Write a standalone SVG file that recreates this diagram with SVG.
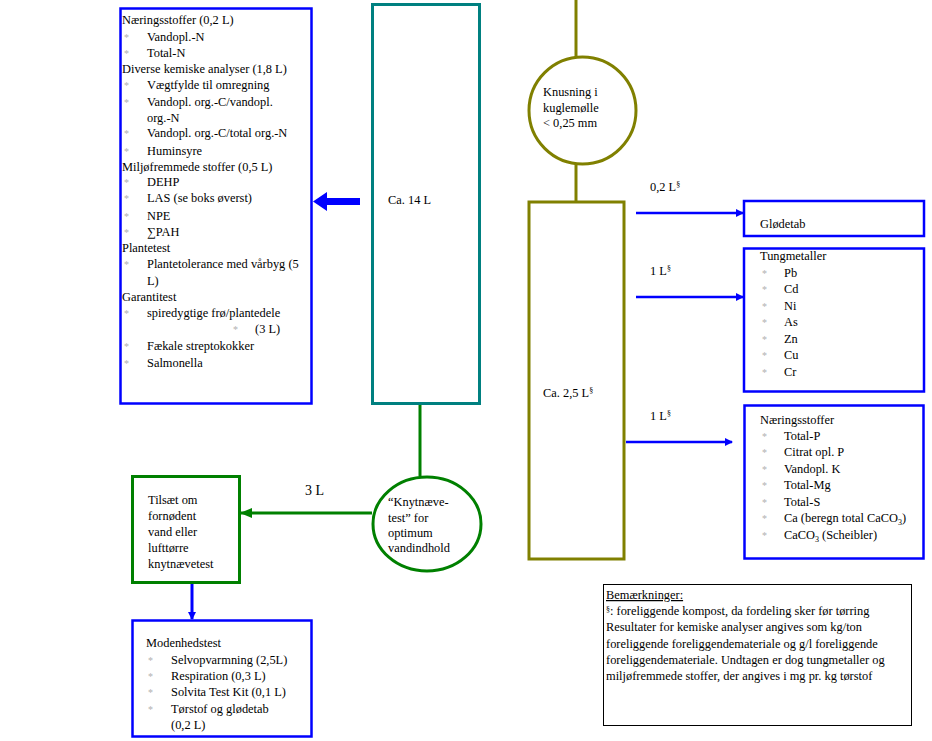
<svg xmlns="http://www.w3.org/2000/svg" width="932" height="741" viewBox="0 0 932 741">
<defs>
<style>
text{font-family:"Liberation Serif","Times New Roman",serif;font-size:12.4px;fill:#000}
.b{fill:#b0b0b0;font-size:10px}
.sup{font-size:8px}
.blue{fill:none;stroke:#0000ff;stroke-width:2.5}
.olive{fill:none;stroke:#808000;stroke-width:3}
.green{fill:none;stroke:#008000;stroke-width:3}
.teal{fill:none;stroke:#008080;stroke-width:3}
</style>
<marker id="ab" markerWidth="8" markerHeight="8" refX="7" refY="4" orient="auto" markerUnits="userSpaceOnUse" viewBox="0 0 8 8"><path d="M0,0 L8,4 L0,8 Z" fill="#0000ff"/></marker>
<marker id="ag" markerWidth="12" markerHeight="10" refX="11" refY="5" orient="auto" markerUnits="userSpaceOnUse" viewBox="0 0 12 10"><path d="M0,0 L12,5 L0,10 Z" fill="#008000"/></marker>
</defs>
<rect width="932" height="741" fill="#fff"/>

<g id="connectors">
<line x1="576" y1="0" x2="576" y2="57" stroke="#808000" stroke-width="3"/>
<line x1="576" y1="164" x2="576" y2="201" stroke="#808000" stroke-width="3"/>
<line x1="636" y1="213" x2="743" y2="213" stroke="#0000ff" stroke-width="2.5" marker-end="url(#ab)"/>
<line x1="636" y1="297" x2="743" y2="297" stroke="#0000ff" stroke-width="2.5" marker-end="url(#ab)"/>
<line x1="626" y1="442" x2="732" y2="442" stroke="#0000ff" stroke-width="2.5" marker-end="url(#ab)"/>
<path d="M360,198 L327,198 L327,192 L313,201.5 L327,211 L327,205 L360,205 Z" fill="#0000ff"/>
<line x1="420" y1="404" x2="420" y2="476" stroke="#008000" stroke-width="3"/>
<line x1="372" y1="513" x2="241" y2="513" stroke="#008000" stroke-width="3" marker-end="url(#ag)"/>
<line x1="192" y1="583" x2="192" y2="619" stroke="#0000ff" stroke-width="3" marker-end="url(#ab)"/>
<text x="650" y="191">0,2 L<tspan class="sup" dy="-4">§</tspan></text>
<text x="650" y="275">1 L<tspan class="sup" dy="-4">§</tspan></text>
<text x="650" y="420">1 L<tspan class="sup" dy="-4">§</tspan></text>
<text x="305" y="495" style="font-size:14px">3 L</text>
</g>

<g id="left-box">
<rect x="120.5" y="8.5" width="191" height="395" class="blue"/>
<text x="122" y="24">Næringsstoffer (0,2 L)</text>
<text x="124" y="41" class="b">*</text><text x="147" y="41">Vandopl.-N</text>
<text x="124" y="57" class="b">*</text><text x="147" y="57">Total-N</text>
<text x="122" y="73">Diverse kemiske analyser (1,8 L)</text>
<text x="124" y="89" class="b">*</text><text x="147" y="89">Vægtfylde til omregning</text>
<text x="124" y="106" class="b">*</text><text x="147" y="106">Vandopl. org.-C/vandopl.</text>
<text x="147" y="122">org.-N</text>
<text x="124" y="137" class="b">*</text><text x="147" y="137">Vandopl. org.-C/total org.-N</text>
<text x="124" y="155" class="b">*</text><text x="147" y="155">Huminsyre</text>
<text x="122" y="171">Miljøfremmede stoffer (0,5 L)</text>
<text x="124" y="186" class="b">*</text><text x="147" y="186">DEHP</text>
<text x="124" y="202" class="b">*</text><text x="147" y="202">LAS (se boks øverst)</text>
<text x="124" y="220" class="b">*</text><text x="147" y="220">NPE</text>
<text x="124" y="236" class="b">*</text><text x="147" y="236">∑PAH</text>
<text x="122" y="252">Plantetest</text>
<text x="124" y="268" class="b">*</text><text x="147" y="268">Plantetolerance med vårbyg (5</text>
<text x="147" y="285">L)</text>
<text x="122" y="301">Garantitest</text>
<text x="124" y="317" class="b">*</text><text x="147" y="317">spiredygtige frø/plantedele</text>
<text x="233" y="333" class="b">*</text><text x="255" y="333">(3 L)</text>
<text x="124" y="350" class="b">*</text><text x="147" y="350">Fækale streptokokker</text>
<text x="124" y="367" class="b">*</text><text x="147" y="367">Salmonella</text>
</g>

<g id="teal-box">
<rect x="372.5" y="4.5" width="107" height="399" class="teal"/>
<text x="388" y="204">Ca. 14 L</text>
</g>

<g id="knusning">
<circle cx="582.5" cy="110.5" r="53.5" class="olive"/>
<text x="543" y="96">Knusning i</text>
<text x="543" y="112">kuglemølle</text>
<text x="543" y="127">&lt; 0,25 mm</text>
</g>

<g id="olive-box">
<rect x="529" y="202" width="95" height="357" class="olive"/>
<text x="543" y="397">Ca.  2,5 L<tspan class="sup" dy="-4">§</tspan></text>
</g>

<g id="glodetab">
<rect x="744" y="201" width="180" height="35" class="blue" stroke-width="3"/>
<text x="760" y="228">Glødetab</text>
</g>

<g id="tungmetaller">
<rect x="744" y="248.5" width="180" height="143" class="blue" stroke-width="3"/>
<text x="760" y="260">Tungmetaller</text>
<text x="762" y="277" class="b">*</text><text x="784" y="277">Pb</text>
<text x="762" y="293" class="b">*</text><text x="784" y="293">Cd</text>
<text x="762" y="310" class="b">*</text><text x="784" y="310">Ni</text>
<text x="762" y="326" class="b">*</text><text x="784" y="326">As</text>
<text x="762" y="343" class="b">*</text><text x="784" y="343">Zn</text>
<text x="762" y="359" class="b">*</text><text x="784" y="359">Cu</text>
<text x="762" y="376" class="b">*</text><text x="784" y="376">Cr</text>
</g>

<g id="naeringsstoffer">
<rect x="744.5" y="405.5" width="179" height="153" class="blue" stroke-width="3"/>
<text x="760" y="424">Næringsstoffer</text>
<text x="762" y="440" class="b">*</text><text x="784" y="440">Total-P</text>
<text x="762" y="456" class="b">*</text><text x="784" y="456">Citrat opl. P</text>
<text x="762" y="473" class="b">*</text><text x="784" y="473">Vandopl. K</text>
<text x="762" y="489" class="b">*</text><text x="784" y="489">Total-Mg</text>
<text x="762" y="506" class="b">*</text><text x="784" y="506">Total-S</text>
<text x="762" y="522" class="b">*</text><text x="784" y="522">Ca (beregn total CaCO<tspan dy="3" style="font-size:8px">3</tspan><tspan dy="-3">)</tspan></text>
<text x="762" y="539" class="b">*</text><text x="784" y="539">CaCO<tspan dy="3" style="font-size:8px">3</tspan><tspan dy="-3"> (Scheibler)</tspan></text>
</g>

<g id="remarks">
<rect x="603.5" y="584.5" width="308" height="141" fill="none" stroke="#000" stroke-width="1"/>
<text x="606" y="599" text-decoration="underline">Bemærkninger:</text>
<text x="606" y="615"><tspan class="sup" dy="-3">§</tspan><tspan dy="3">: foreliggende kompost, da fordeling sker før tørring</tspan></text>
<text x="606" y="631">Resultater for kemiske analyser angives som kg/ton</text>
<text x="606" y="648">foreliggende foreliggendemateriale og g/l foreliggende</text>
<text x="606" y="664">foreliggendemateriale. Undtagen er dog tungmetaller og</text>
<text x="606" y="680">miljøfremmede stoffer, der angives i mg pr. kg tørstof</text>
</g>

<g id="knytnaeve">
<ellipse cx="427" cy="524" rx="54" ry="47" class="green"/>
<text x="388" y="506">“Knytnæve-</text>
<text x="388" y="522">test” for</text>
<text x="388" y="537">optimum</text>
<text x="388" y="552">vandindhold</text>
</g>

<g id="tilsaet">
<rect x="132.5" y="476.5" width="107" height="106" class="green" stroke-width="2.5"/>
<text x="148" y="504">Tilsæt om</text>
<text x="148" y="520">fornødent</text>
<text x="148" y="536">vand eller</text>
<text x="148" y="552">lufttørre</text>
<text x="148" y="568">knytnævetest</text>
</g>

<g id="modenhedstest">
<rect x="132.5" y="620.5" width="179" height="116" class="blue" stroke-width="3"/>
<text x="146" y="647">Modenhedstest</text>
<text x="148" y="664" class="b">*</text><text x="171" y="664">Selvopvarmning (2,5L)</text>
<text x="148" y="680" class="b">*</text><text x="171" y="680">Respiration (0,3 L)</text>
<text x="148" y="696" class="b">*</text><text x="171" y="696">Solvita Test Kit (0,1 L)</text>
<text x="148" y="713" class="b">*</text><text x="171" y="713">Tørstof og glødetab</text>
<text x="171" y="729">(0,2 L)</text>
</g>
</svg>
